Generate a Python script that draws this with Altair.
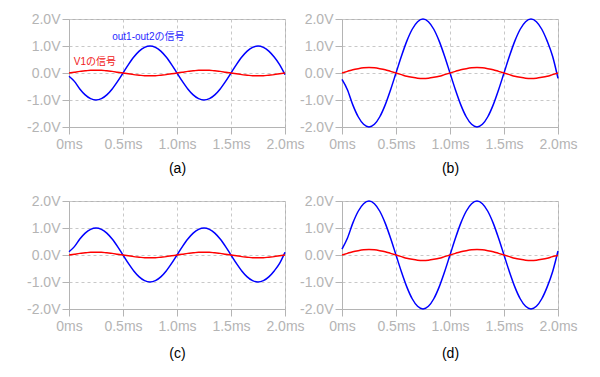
import altair as alt
import pandas as pd

t_ms = [0.00, 0.05, 0.10, 0.15, 0.20, 0.25, 0.30, 0.35, 0.40, 0.45,
        0.50, 0.55, 0.60, 0.65, 0.70, 0.75, 0.80, 0.85, 0.90, 0.95,
        1.00, 1.05, 1.10, 1.15, 1.20, 1.25, 1.30, 1.35, 1.40, 1.45,
        1.50, 1.55, 1.60, 1.65, 1.70, 1.75, 1.80, 1.85, 1.90, 1.95, 2.00]

blue_a = [-0.12, -0.31, -0.59, -0.81, -0.95, -1.00, -0.95, -0.81, -0.59, -0.31,
          0.00, 0.31, 0.59, 0.81, 0.95, 1.00, 0.95, 0.81, 0.59, 0.31,
          0.00, -0.31, -0.59, -0.81, -0.95, -1.00, -0.95, -0.81, -0.59, -0.31,
          0.00, 0.31, 0.59, 0.81, 0.95, 1.00, 0.95, 0.81, 0.59, 0.31, -0.06]
red_a = [0.00, 0.03, 0.06, 0.08, 0.10, 0.10, 0.10, 0.08, 0.06, 0.03,
         0.00, -0.03, -0.06, -0.08, -0.10, -0.10, -0.10, -0.08, -0.06, -0.03,
         0.00, 0.03, 0.06, 0.08, 0.10, 0.10, 0.10, 0.08, 0.06, 0.03,
         0.00, -0.03, -0.06, -0.08, -0.10, -0.10, -0.10, -0.08, -0.06, -0.03, 0.00]

blue_b = [-0.24, -0.62, -1.18, -1.62, -1.90, -2.00, -1.90, -1.62, -1.18, -0.62,
          0.00, 0.62, 1.18, 1.62, 1.90, 2.00, 1.90, 1.62, 1.18, 0.62,
          0.00, -0.62, -1.18, -1.62, -1.90, -2.00, -1.90, -1.62, -1.18, -0.62,
          0.00, 0.62, 1.18, 1.62, 1.90, 2.00, 1.90, 1.62, 1.18, 0.62, -0.20]
red_b = [0.00, 0.06, 0.12, 0.16, 0.19, 0.20, 0.19, 0.16, 0.12, 0.06,
         0.00, -0.06, -0.12, -0.16, -0.19, -0.20, -0.19, -0.16, -0.12, -0.06,
         0.00, 0.06, 0.12, 0.16, 0.19, 0.20, 0.19, 0.16, 0.12, 0.06,
         0.00, -0.06, -0.12, -0.16, -0.19, -0.20, -0.19, -0.16, -0.12, -0.06, 0.00]

blue_c = [0.12, 0.31, 0.59, 0.81, 0.95, 1.00, 0.95, 0.81, 0.59, 0.31,
          0.00, -0.31, -0.59, -0.81, -0.95, -1.00, -0.95, -0.81, -0.59, -0.31,
          0.00, 0.31, 0.59, 0.81, 0.95, 1.00, 0.95, 0.81, 0.59, 0.31,
          0.00, -0.31, -0.59, -0.81, -0.95, -1.00, -0.95, -0.81, -0.59, -0.31, 0.10]
red_c = [0.00, 0.03, 0.06, 0.08, 0.10, 0.10, 0.10, 0.08, 0.06, 0.03,
         0.00, -0.03, -0.06, -0.08, -0.10, -0.10, -0.10, -0.08, -0.06, -0.03,
         0.00, 0.03, 0.06, 0.08, 0.10, 0.10, 0.10, 0.08, 0.06, 0.03,
         0.00, -0.03, -0.06, -0.08, -0.10, -0.10, -0.10, -0.08, -0.06, -0.03, 0.00]

blue_d = [0.22, 0.62, 1.18, 1.62, 1.90, 2.00, 1.90, 1.62, 1.18, 0.62,
          0.00, -0.62, -1.18, -1.62, -1.90, -2.00, -1.90, -1.62, -1.18, -0.62,
          0.00, 0.62, 1.18, 1.62, 1.90, 2.00, 1.90, 1.62, 1.18, 0.62,
          0.00, -0.62, -1.18, -1.62, -1.90, -2.00, -1.90, -1.62, -1.18, -0.62, 0.15]
red_d = [0.00, 0.06, 0.12, 0.16, 0.19, 0.20, 0.19, 0.16, 0.12, 0.06,
         0.00, -0.06, -0.12, -0.16, -0.19, -0.20, -0.19, -0.16, -0.12, -0.06,
         0.00, 0.06, 0.12, 0.16, 0.19, 0.20, 0.19, 0.16, 0.12, 0.06,
         0.00, -0.06, -0.12, -0.16, -0.19, -0.20, -0.19, -0.16, -0.12, -0.06, -0.02]

x_ticks = [0, 0.5, 1.0, 1.5, 2.0]
y_ticks = [-2, -1, 0, 1, 2]
captions = ["(a)", "(b)", "(c)", "(d)"]

note_text = ["out1-out2の信号", "V1の信号"]
note_t = [0.40, 0.045]
note_v = [1.33, 0.41]
note_color = ["#2a2aff", "#f02020"]

GRAY = "#b4b4b4"
FONT = "Liberation Sans"
W, H = 216, 108


def panel(blue, red, caption, title_pad, notes=False):
    n = len(t_ms)
    df = pd.DataFrame({
        "t": t_ms + t_ms,
        "v": blue + red,
        "s": ["blue"] * n + ["red"] * n,
    })
    x = alt.X("t:Q",
              scale=alt.Scale(domain=[0, 2], nice=False, zero=False),
              axis=alt.Axis(values=x_ticks,
                            labelExpr="datum.value == 0 ? '0ms' : format(datum.value, '.1f') + 'ms'",
                            title=caption, titlePadding=title_pad,
                            titleColor="black", titleFontSize=14,
                            titleFontWeight="normal", titleFont=FONT,
                            labelFont=FONT, labelFontSize=14, labelColor=GRAY,
                            labelPadding=3, tickSize=7, tickColor=GRAY,
                            domainColor=GRAY, labelFlush=False, labelOverlap=False,
                            grid=True, gridDash=[3, 3], gridColor="#c8c8c8"))
    y = alt.Y("v:Q",
              scale=alt.Scale(domain=[-2, 2], nice=False),
              axis=alt.Axis(values=y_ticks,
                            labelExpr="(datum.value < 0 ? '-' : '') + format(abs(datum.value), '.1f') + 'V'",
                            title=None,
                            labelFont=FONT, labelFontSize=14, labelColor=GRAY,
                            labelPadding=2, tickSize=7, tickColor=GRAY,
                            domainColor=GRAY, labelFlush=False, labelOverlap=False,
                            grid=True, gridDash=[3, 3], gridColor="#c8c8c8"))
    lines = alt.Chart(df).mark_line(strokeWidth=1.5, interpolate="monotone").encode(
        x=x, y=y,
        color=alt.Color("s:N", scale=alt.Scale(domain=["blue", "red"], range=["#0000ff", "#ff0000"]), legend=None),
    )
    layers = [lines]
    if notes:
        ndf = pd.DataFrame({"t": note_t, "v": note_v, "label": note_text, "c": note_color})
        txt = alt.Chart(ndf).mark_text(align="left", baseline="middle", fontSize=10,
                                       font="Liberation Sans, Noto Sans CJK JP").encode(
            x=x, y=y, text="label:N",
            color=alt.Color("c:N", scale=None))
        layers.append(txt)
    return alt.layer(*layers).properties(width=W, height=H)


pa = panel(blue_a, red_a, captions[0], 10, notes=True)
pb = panel(blue_b, red_b, captions[1], 10)
pc = panel(blue_c, red_c, captions[2], 13)
pd_ = panel(blue_d, red_d, captions[3], 13)

chart = alt.concat(pa, pb, pc, pd_, columns=2,
                   spacing={"row": 74, "column": 57},
                   bounds="flush").properties(
    padding={"left": 26, "top": 11, "right": 5, "bottom": 5},
    background="white",
).configure_view(stroke=GRAY, strokeWidth=1)

chart.save("out.html", embed_options={"renderer": "svg", "actions": False})
